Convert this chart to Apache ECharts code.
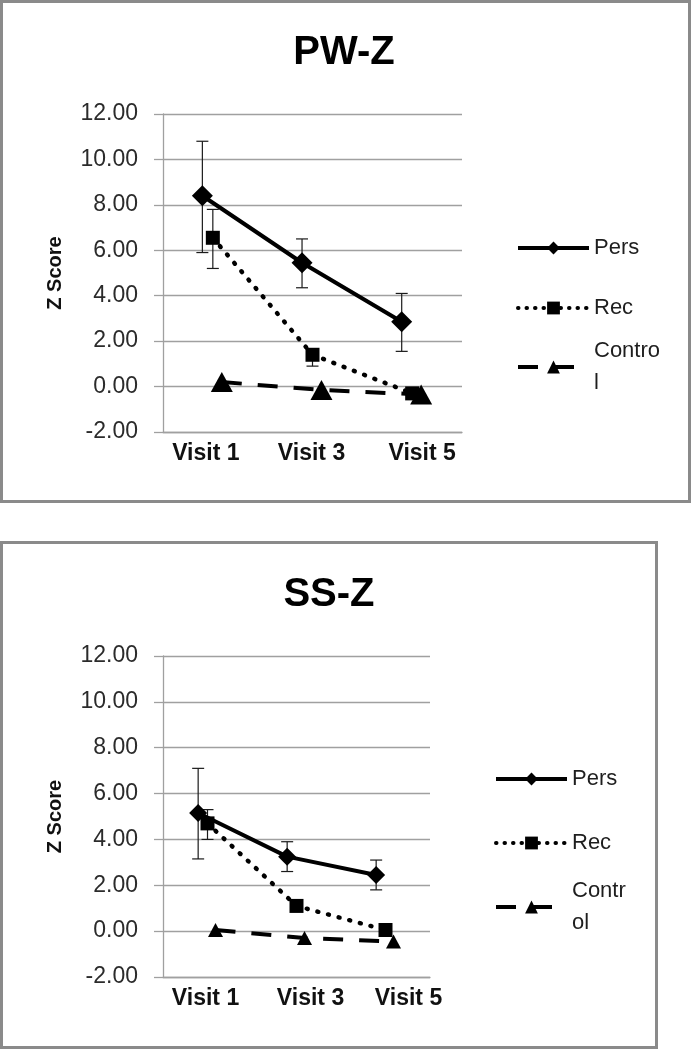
<!DOCTYPE html>
<html><head><meta charset="utf-8">
<script src="https://cdn.jsdelivr.net/npm/echarts@6/dist/echarts.min.js"></script>
<style>html,body{margin:0;padding:0;background:#fff}#c{width:692px;height:1050px}</style>
</head><body><div id="c"></div>
<script>
// ---- data ----
const categories = ['Visit 1', 'Visit 3', 'Visit 5'];
const seriesNames = ['Pers', 'Rec', 'Control'];
const chartTitles = ['PW-Z', 'SS-Z'];
const yMin = -2, yMax = 12, yStep = 2;

// PW-Z
const pwPers = [8.4, 5.45, 2.85];
const pwPersPlus = [2.4, 1.05, 1.25];
const pwPersMinus = [2.5, 1.1, 1.3];
const pwRec = [6.55, 1.4, -0.3];
const pwRecPlus = [1.25, 0.2, 0];
const pwRecMinus = [1.35, 0.5, 0];
const pwControl = [0.2, -0.15, -0.35];

// SS-Z
const ssPers = [5.15, 3.25, 2.45];
const ssPersPlus = [1.95, 0.65, 0.65];
const ssPersMinus = [2.0, 0.65, 0.65];
const ssRec = [4.7, 1.1, 0.05];
const ssRecPlus = [0.6, 0, 0];
const ssRecMinus = [0.7, 0, 0];
const ssControl = [0.05, -0.3, -0.45];

// ---- styles / layout ----
const FONT = 'Liberation Sans';
const GRAY = '#a0a0a0';
const xOffset = { Pers: -0.105, Rec: 0, Control: 0.09 };
const lineStyles = {
  Pers: { color: '#000', width: 4, type: 'solid' },
  Rec: { color: '#000', width: 4.5, type: [1, 10], cap: 'round' },
  Control: { color: '#000', width: 4, type: [20, 16], cap: 'butt' }
};
const legendLineStyles = {
  Pers: { width: 4, type: 'solid', cap: 'butt' },
  Rec: { width: 4, type: [0.5, 8], cap: 'round' },
  Control: { width: 4, type: [20, 16], cap: 'butt' }
};
const symbols = { Pers: 'diamond', Rec: 'rect', Control: 'triangle' };
const symbolSizes = [
  { Pers: 21, Rec: 14, Control: [22, 20] },
  { Pers: 18, Rec: 14, Control: [15, 14] }
];
const grids = [
  { left: 163, top: 114, width: 299, height: 318 },
  { left: 163, top: 656, width: 267, height: 321 }
];
// horizontal nudges of the category labels (padding [left, right])
const labelNudge = [
  [[0, 14], [0, 2], [20, 0]],
  [[0, 4], [28, 0], [46, 0]]
];
const legendPos = [
  { left: 516, centers: [248, 308, 367], ctrlText: 'Contro\nl' },
  { left: 494, centers: [779, 843, 907], ctrlText: 'Contr\nol' }
];
const titlePos = [[344, 53], [329, 595]];
const frames = [
  { x: 1.5, y: 1.5, width: 688, height: 500 },
  { x: 1.5, y: 542.5, width: 655, height: 505 }
];

const chartData = [
  { Pers: pwPers, Rec: pwRec, Control: pwControl,
    plus: { Pers: pwPersPlus, Rec: pwRecPlus }, minus: { Pers: pwPersMinus, Rec: pwRecMinus } },
  { Pers: ssPers, Rec: ssRec, Control: ssControl,
    plus: { Pers: ssPersPlus, Rec: ssRecPlus }, minus: { Pers: ssPersMinus, Rec: ssRecMinus } }
];

function errRender(params, api) {
  const x = api.value(0), v = api.value(1), p = api.value(2), m = api.value(3);
  const top = api.coord([x, v + p]);
  const bot = api.coord([x, v - m]);
  const hw = 6;
  const st = { stroke: '#1a1a1a', lineWidth: 1.2 };
  const ch = [{ type: 'line', shape: { x1: top[0], y1: top[1], x2: bot[0], y2: bot[1] }, style: st }];
  if (p > 0) ch.push({ type: 'line', shape: { x1: top[0] - hw, y1: top[1], x2: top[0] + hw, y2: top[1] }, style: st });
  if (m > 0) ch.push({ type: 'line', shape: { x1: bot[0] - hw, y1: bot[1], x2: bot[0] + hw, y2: bot[1] }, style: st });
  return { type: 'group', children: ch };
}

const option = {
  backgroundColor: '#fff',
  animation: false,
  grid: grids,
  xAxis: [], yAxis: [], series: [], legend: [],
  graphic: []
};

grids.forEach((g, gi) => {
  const rich = {};
  labelNudge[gi].forEach((pd, i) => {
    rich['c' + i] = { fontFamily: FONT, fontSize: 23, fontWeight: 'bold', color: '#111',
      padding: [0, pd[1], 0, pd[0]] };
  });
  option.xAxis.push({
    type: 'category', gridIndex: gi, data: categories, boundaryGap: true,
    axisLine: { show: true, onZero: false, lineStyle: { color: GRAY, width: 1.3 } },
    axisTick: { show: false },
    axisLabel: { interval: 0, hideOverlap: false, margin: 10, fontFamily: FONT, fontSize: 23,
      fontWeight: 'bold', color: '#111',
      formatter: (v, i) => '{c' + i + '|' + v + '}', rich: rich },
    splitLine: { show: false }
  });
  option.xAxis.push({ type: 'value', gridIndex: gi, min: 0, max: categories.length, show: false });
  option.yAxis.push({
    type: 'value', gridIndex: gi, min: yMin, max: yMax, interval: yStep,
    name: 'Z Score', nameLocation: 'middle', nameGap: 98, nameRotate: 90,
    nameTextStyle: { fontFamily: FONT, fontSize: 20, fontWeight: 'bold', color: '#111' },
    axisLine: { show: true, lineStyle: { color: GRAY, width: 1.3 } },
    axisTick: { show: true, inside: false, length: 9, lineStyle: { color: GRAY, width: 1.3 } },
    splitLine: { show: true, lineStyle: { color: GRAY, width: 1.3 } },
    axisLabel: { margin: 25, fontFamily: FONT, fontSize: 23, color: '#2b2b2b',
      formatter: v => v.toFixed(2) }
  });

  const d = chartData[gi];
  ['Pers', 'Rec'].forEach(name => {
    const pts = [];
    categories.forEach((c, i) => {
      const p = d.plus[name][i], m = d.minus[name][i];
      if (p > 0 || m > 0) pts.push([i + 0.5 + xOffset[name], d[name][i], p, m]);
    });
    option.series.push({
      type: 'custom', xAxisIndex: gi * 2 + 1, yAxisIndex: gi, z: 1,
      renderItem: errRender, data: pts, encode: { x: 0, y: 1 }, silent: true
    });
  });
  seriesNames.forEach(name => {
    option.series.push({
      type: 'line', name: name, xAxisIndex: gi * 2 + 1, yAxisIndex: gi, z: 3,
      data: categories.map((c, i) => [i + 0.5 + xOffset[name], d[name][i]]),
      symbol: symbols[name], symbolSize: symbolSizes[gi][name], showSymbol: true,
      itemStyle: { color: '#000' },
      lineStyle: lineStyles[name]
    });
  });

  const lp = legendPos[gi];
  seriesNames.forEach((name, si) => {
    const isCtrl = name === 'Control';
    option.legend.push({
      show: true, orient: 'vertical', selectedMode: false, padding: 0,
      left: lp.left, top: lp.centers[si] - (isCtrl ? 48 : 16),
      itemWidth: 71, itemHeight: 16, itemGap: 0,
      lineStyle: Object.assign({ color: '#000' }, legendLineStyles[name]),
      data: [isCtrl ? { name: name, textStyle: { padding: [32, 0, 0, 0] } } : name],
      formatter: n => (n === 'Control' ? lp.ctrlText : n),
      textStyle: { fontFamily: FONT, fontSize: 22, lineHeight: 32, color: '#1e1e1e' }
    });
  });

  option.graphic.push({
    type: 'rect', z: -1, silent: true, shape: frames[gi],
    style: { fill: 'none', stroke: '#8a8a8a', lineWidth: 3 }
  });
  option.graphic.push({
    type: 'text', x: titlePos[gi][0], y: titlePos[gi][1], silent: true,
    style: { text: chartTitles[gi], fontFamily: FONT, fontSize: 40, fontWeight: 'bold',
      fill: '#000', align: 'center', verticalAlign: 'middle' }
  });
});

const chart = echarts.init(document.getElementById('c'), null, { renderer: 'canvas' });
chart.setOption(option);
</script>
</body></html>
